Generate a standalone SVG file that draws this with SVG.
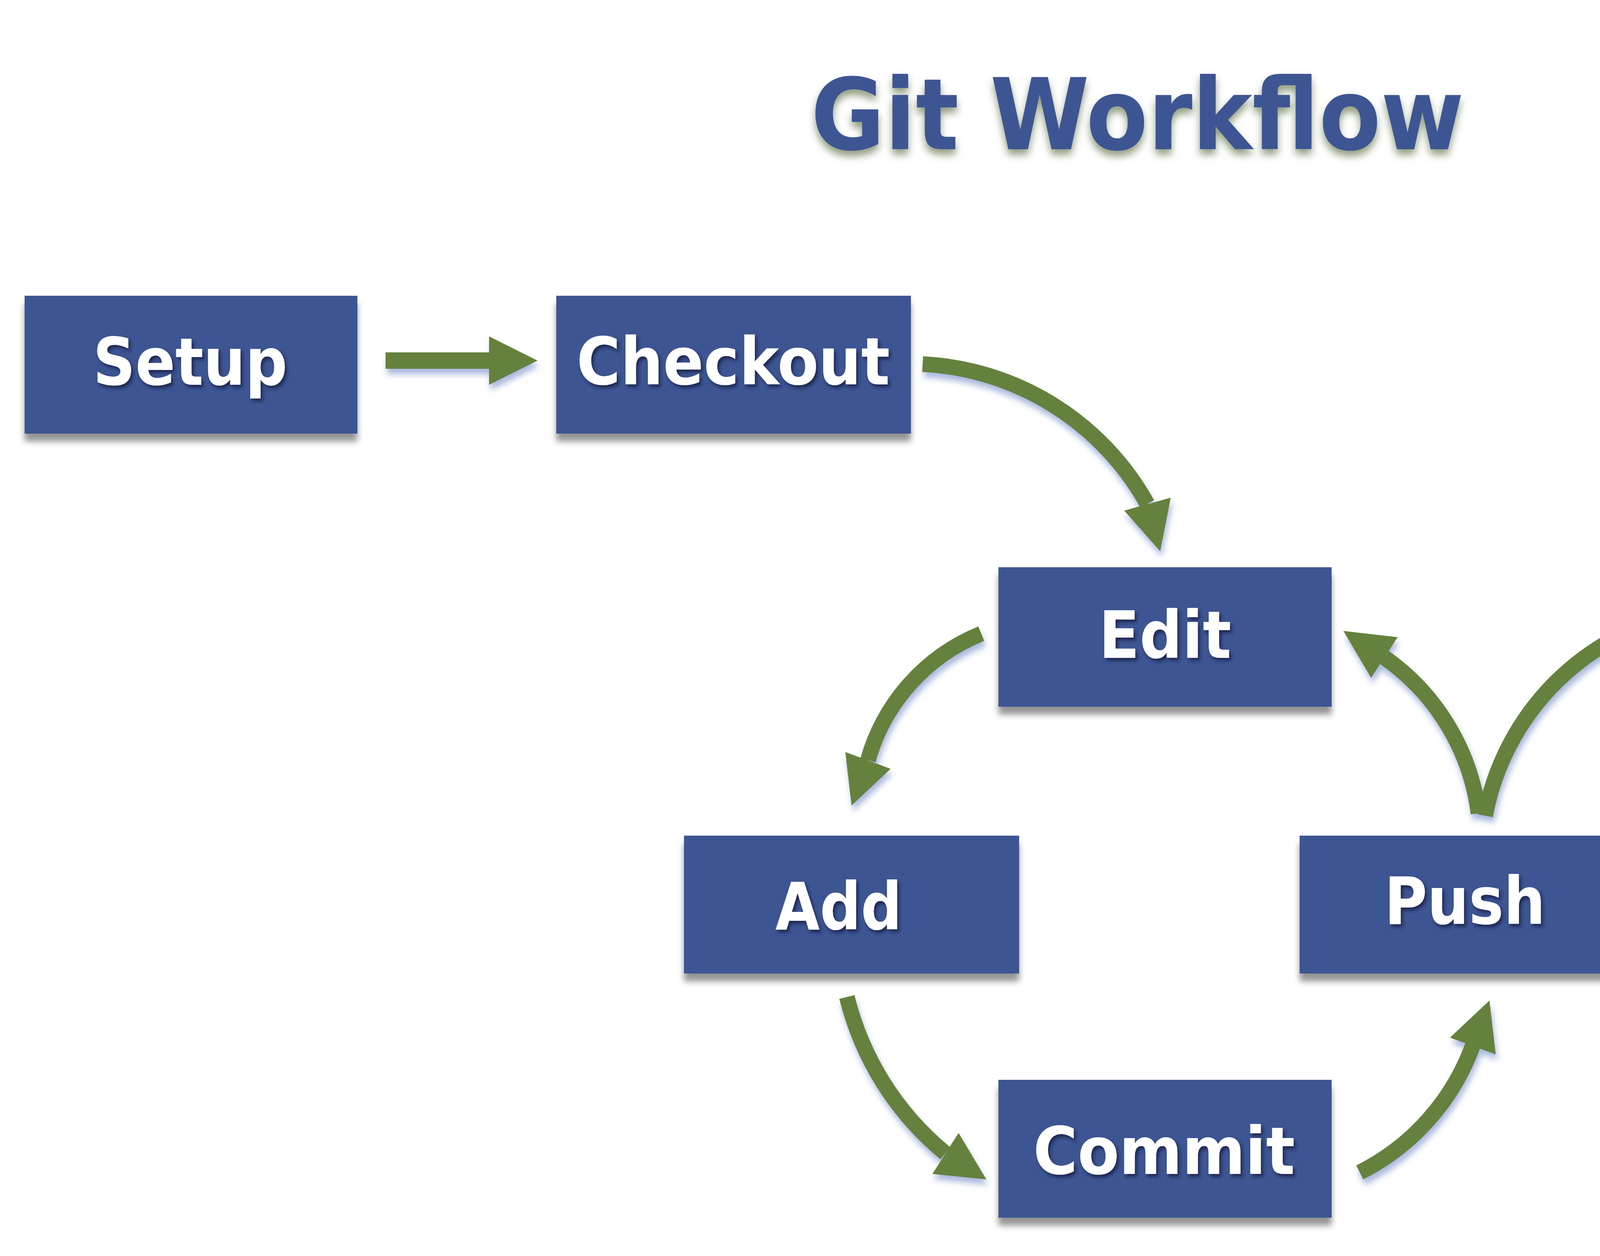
<svg xmlns="http://www.w3.org/2000/svg" width="5423" height="3215" viewBox="0 0 5423 3215">
  <defs>
    <filter id="boxShadow" x="-5%" y="-10%" width="110%" height="130%">
      <feDropShadow dx="0" dy="20" stdDeviation="8" flood-color="#000000" flood-opacity="0.42"/>
    </filter>
    <filter id="arrowShadow" x="-10%" y="-10%" width="120%" height="130%">
      <feDropShadow dx="4" dy="14" stdDeviation="8" flood-color="#7F93CC" flood-opacity="0.65"/>
    </filter>
    <filter id="labelShadow" x="-10%" y="-20%" width="120%" height="150%">
      <feDropShadow dx="5" dy="7" stdDeviation="4" flood-color="#152046" flood-opacity="0.85"/>
    </filter>
    <filter id="titleShadow" x="-10%" y="-20%" width="120%" height="160%">
      <feDropShadow dx="0" dy="14" stdDeviation="10" flood-color="#6A7B55" flood-opacity="0.75"/>
    </filter>
  </defs>
  <style>
    .box { fill: #3D5592; filter: url(#boxShadow); }
    .label { fill: #FFFFFF; font-family: "DejaVu Sans", Verdana, sans-serif; font-weight: bold; font-size: 168px; filter: url(#labelShadow); }
    .title { fill: #3E5593; font-family: "DejaVu Sans", Verdana, sans-serif; font-weight: bold; font-size: 254px; filter: url(#titleShadow); }
    .shaft { fill: none; stroke: #66813D; stroke-width: 40; stroke-linecap: butt; }
    .head { fill: #66813D; }
  </style>
  <rect width="5423" height="3215" fill="#FFFFFF"/>

  <text class="title" x="2076" y="382" textLength="1672" lengthAdjust="spacingAndGlyphs">Git Workflow</text>

  <g id="connectors" filter="url(#arrowShadow)">
    <polygon class="head" points="987,902 1252,902 1252,861 1376,923 1252,985 1252,944 987,944"/>
    <path class="shaft" d="M2362,932 A698,698 0 0 1 2937,1290"/>
    <polygon class="head" points="2878,1307 2997,1274 2970,1411"/>
    <path class="shaft" d="M2512,1622 A494,494 0 0 0 2222,1946"/>
    <polygon class="head" points="2164,1925 2280,1968 2180,2062"/>
    <path class="shaft" d="M2168,2552 A752,752 0 0 0 2420,2952"/>
    <polygon class="head" points="2454,2900 2525,3019 2387,3005"/>
    <path class="shaft" d="M3481,3001 A590,590 0 0 0 3770,2677"/>
    <polygon class="head" points="3712,2656 3813,2561 3829,2699"/>
    <path class="shaft" d="M3785,2082 A576,576 0 0 0 3544,1683"/>
    <polygon class="head" points="3578,1631 3439,1615 3510,1735"/>
    <path class="shaft" d="M3802,2088 A651,651 0 0 1 4340,1565"/>
    <polygon class="head" points="4343,1503 4464,1567 4338,1627"/>
  </g>

  <g id="setup">
    <rect class="box" x="63" y="757" width="852" height="353"/>
    <text class="label" x="238" y="985" textLength="498" lengthAdjust="spacingAndGlyphs">Setup</text>
  </g>
  <g id="checkout">
    <rect class="box" x="1424" y="757" width="908" height="353"/>
    <text class="label" x="1476" y="984" textLength="802" lengthAdjust="spacingAndGlyphs">Checkout</text>
  </g>
  <g id="edit">
    <rect class="box" x="2556" y="1452" width="853" height="357"/>
    <text class="label" x="2813" y="1684" textLength="339" lengthAdjust="spacingAndGlyphs">Edit</text>
  </g>
  <g id="merge">
    <rect class="box" x="4500" y="1382" width="854" height="354"/>
    <text class="label" x="4688" y="1610" textLength="532" lengthAdjust="spacingAndGlyphs">Merge</text>
  </g>
  <g id="add">
    <rect class="box" x="1751" y="2139" width="858" height="353"/>
    <text class="label" x="1985" y="2379" textLength="324" lengthAdjust="spacingAndGlyphs">Add</text>
  </g>
  <g id="push">
    <rect class="box" x="3327" y="2139" width="853" height="353"/>
    <text class="label" x="3544" y="2365" textLength="412" lengthAdjust="spacingAndGlyphs">Push</text>
  </g>
  <g id="commit">
    <rect class="box" x="2556" y="2764" width="853" height="353"/>
    <text class="label" x="2645" y="3005" textLength="670" lengthAdjust="spacingAndGlyphs">Commit</text>
  </g>
</svg>
